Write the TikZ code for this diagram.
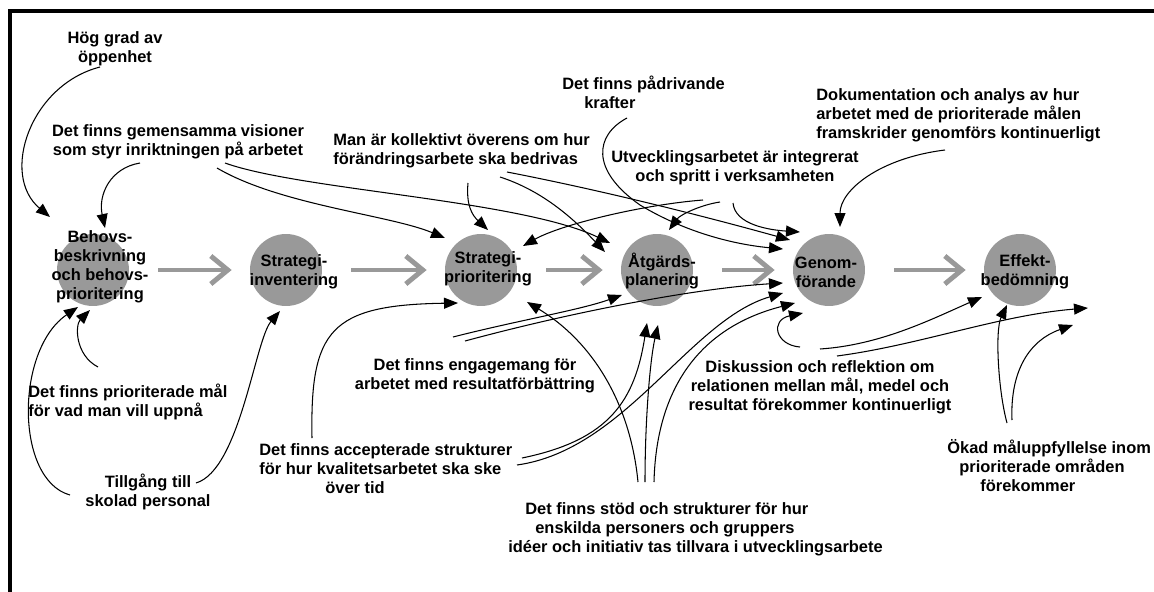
\documentclass[tikz,border=0pt]{standalone}
\usepackage{fontspec}
\setmainfont{Liberation Sans}
\usepackage{xcolor}
\usetikzlibrary{arrows.meta, calc}

\definecolor{stagegray}{RGB}{153,153,153}
\newcommand{\notefont}{\bfseries\fontsize{9.35}{10.8}\selectfont}

\tikzstyle{stage} = [circle, fill=stagegray, minimum size=1.44cm, inner sep=0pt]
\tikzstyle{stagename} = [font=\notefont, align=center, inner sep=0pt]
\tikzstyle{note} = [font=\notefont, inner sep=0pt]
\tikzstyle{flow} = [stagegray, line width=2.8pt, -{Straight Barb[length=0.34cm, width=0.56cm]}, shorten <=0.58cm, shorten >=0.36cm]
\tikzstyle{arrow} = [line width=0.6pt, -{Triangle[length=0.28cm, width=0.22cm]}]

\begin{document}
\begin{tikzpicture}[x=0.02cm, y=-0.02cm]
    \useasboundingbox (0,0) rectangle (1154,592);
    \draw [line width=0.08cm] (10,592) -- (10,11) -- (1154,11);

    % stages
    \node (behov) [stage] at (93,270) {};
    \node (inventering) [stage] at (286,270) {};
    \node (strategi) [stage] at (481,270) {};
    \node (atgard) [stage] at (657,270) {};
    \node (genom) [stage] at (829,270) {};
    \node (effekt) [stage] at (1020,270) {};
    \node (behovtxt) [stagename] at ($(behov)+(7,-3)$) {Behovs-\\beskrivning\\och behovs-\\prioritering};
    \node (inventeringtxt) [stagename] at ($(inventering)+(8,2)$) {Strategi-\\inventering};
    \node (strategitxt) [stagename] at ($(strategi)+(7,-1)$) {Strategi-\\prioritering};
    \node (atgardtxt) [stagename] at ($(atgard)+(5,1)$) {Åtgärds-\\planering};
    \node (genomtxt) [stagename] at ($(genom)+(-3,2)$) {Genom-\\förande};
    \node (effekttxt) [stagename] at ($(effekt)+(5,2)$) {Effekt-\\bedömning};

    \draw [flow] (behov) -- (inventering);
    \draw [flow] (inventering) -- (strategi);
    \draw [flow] (strategi) -- (atgard);
    \draw [flow] (atgard) -- (genom);
    \draw [flow] (genom) -- (effekt);

    % factors
    \node (oppenhet) [note, align=center] at (115,49) {Hög grad av\\öppenhet};
    \node (visioner) [note, align=center] at (178,142) {Det finns gemensamma visioner\\som styr inriktningen på arbetet};
    \node (kollektivt) [note, align=left, anchor=west] at (333,151) {Man är kollektivt överens om hur\\förändringsarbete ska bedrivas};
    \node (kraft) [note, align=left, anchor=west] at (562,92) {Det finns pådrivande\\\hspace*{0.44cm}krafter};
    \node (integrerat) [note, align=center] at (735,168) {Utvecklingsarbetet är integrerat\\och spritt i verksamheten};
    \node (dokument) [note, align=left, anchor=west] at (816,115) {Dokumentation och analys av hur\\arbetet med de prioriterade målen\\framskrider genomförs kontinuerligt};
    \node (malen) [note, align=left, anchor=west] at (28,402) {Det finns prioriterade mål\\för vad man vill uppnå};
    \node (personal) [note, align=center] at (148,492) {Tillgång till\\skolad personal};
    \node (engagemang) [note, align=center] at (475,376) {Det finns engagemang för\\arbetet med resultatförbättring};
    \node (strukturer) [note, align=left, anchor=west] at (259,469) {Det finns accepterade strukturer\\för hur kvalitetsarbetet ska ske\\\hspace*{1.32cm}över tid};
    \node (stod) [note, align=left, anchor=west] at (508,529) {\hspace*{0.34cm}Det finns stöd och strukturer för hur\\\hspace*{0.54cm}enskilda personers och gruppers\\idéer och initiativ tas tillvara i utvecklingsarbete};
    \node (diskussion) [note, align=center] at (820,387) {Diskussion och reflektion om\\relationen mellan mål, medel och\\resultat förekommer kontinuerligt};
    \node (okad) [note, align=left, anchor=west] at (947,466) {Ökad måluppfyllelse inom\\\hspace*{0.24cm}prioriterade områden\\\hspace*{0.66cm}förekommer};
    \coordinate (dfree) at (1088,308);
    \coordinate (ofree) at (1073,325);

    % links
    \draw [arrow] ($(oppenhet)+(-15,18)$) .. controls (30,85) and (0,175) .. ($(behov)+(-43,-53)$);
    \draw [arrow] ($(visioner)+(-38,21)$) .. controls (110,168) and (98,195) .. ($(behov)+(12,-42)$);
    \draw [arrow] ($(visioner)+(39,26)$) .. controls (280,205) and (390,215) .. ($(strategi)+(-36,-32)$);
    \draw [arrow] ($(visioner)+(47,21)$) .. controls (300,190) and (520,200) .. ($(atgard)+(-47,-27)$);
    \draw [arrow] ($(kollektivt.west)+(135,32)$) .. controls (466,205) and (472,215) .. ($(strategi)+(7,-40)$);
    \draw [arrow] ($(kollektivt.west)+(167,26)$) .. controls (540,190) and (570,215) .. ($(atgard)+(-52,-18)$);
    \draw [arrow] ($(kollektivt.west)+(174,21)$) .. controls (600,190) and (700,215) .. ($(genom)+(-39,-30)$);
    \draw [arrow] ($(kraft.west)+(65,26)$) .. controls (595,135) and (590,170) .. (640,205) .. controls (690,235) and (740,245) .. ($(genom)+(-46,-21)$);
    \draw [arrow] ($(integrerat)+(-32,32)$) .. controls (640,205) and (560,225) .. ($(strategi)+(42,-24)$);
    \draw [arrow] ($(integrerat)+(-15,34)$) .. controls (700,205) and (680,215) .. ($(atgard)+(12,-40)$);
    \draw [arrow] ($(integrerat)+(-2,35)$) .. controls (735,225) and (770,230) .. ($(genom)+(-29,-38)$);
    \draw [arrow] ($(dokument.west)+(129,35)$) .. controls (880,158) and (840,190) .. ($(genom)+(11,-43)$);
    \draw [arrow] ($(malen.west)+(70,-35)$) .. controls (75,355) and (75,325) .. ($(behov)+(-3,40)$);
    \draw [arrow] ($(personal)+(-78,3)$) .. controls (15,480) and (15,350) .. ($(behov)+(-15,37)$);
    \draw [arrow] ($(personal)+(48,-9)$) .. controls (240,470) and (255,340) .. ($(inventering)+(-6,41)$);
    \draw [arrow] ($(strukturer.west)+(53,-31)$) .. controls (310,330) and (330,305) .. ($(strategi)+(-23,33)$);
    \draw [arrow] ($(engagemang)+(-22,-39)$) .. controls (520,320) and (580,310) .. ($(atgard)+(-35,25)$);
    \draw [arrow] ($(engagemang)+(-10,-35)$) .. controls (580,310) and (700,288) .. ($(genom)+(-46,13)$);
    \draw [arrow] ($(strukturer.west)+(263,-11)$) .. controls (610,440) and (635,400) .. ($(atgard)+(-10,53)$);
    \draw [arrow] ($(strukturer.west)+(258,-4)$) .. controls (625,450) and (690,320) .. ($(genom)+(-46,23)$);
    \draw [arrow] ($(stod.west)+(130,-47)$) .. controls (630,400) and (590,340) .. ($(strategi)+(46,32)$);
    \draw [arrow] ($(stod.west)+(137,-47)$) .. controls (645,420) and (650,360) .. ($(atgard)+(1,55)$);
    \draw [arrow] ($(stod.west)+(146,-47)$) .. controls (656,400) and (690,330) .. ($(genom)+(-34,33)$);
    \draw [arrow] ($(diskussion)+(-20,-40)$) .. controls (775,345) and (770,320) .. ($(genom)+(-26,43)$);
    \draw [arrow] ($(diskussion)+(0,-38)$) .. controls (880,345) and (930,320) .. ($(effekt)+(-38,27)$);
    \draw [arrow] ($(diskussion)+(17,-31)$) .. controls (920,345) and (1000,315) .. (dfree);
    \draw [arrow] ($(okad.west)+(60,-43)$) .. controls (998,390) and (995,330) .. ($(effekt)+(-13,35)$);
    \draw [arrow] ($(okad.west)+(65,-46)$) .. controls (1010,370) and (1030,340) .. (ofree);
\end{tikzpicture}
\end{document}
